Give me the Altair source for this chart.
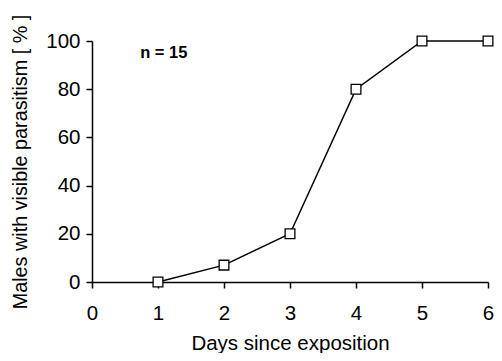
import altair as alt
import pandas as pd

days = [1, 2, 3, 4, 5, 6]
percent = [0, 7, 20, 80, 100, 100]
x_ticks = [0, 1, 2, 3, 4, 5, 6]
y_ticks = [0, 20, 40, 60, 80, 100]
note_text = ["n = 15"]
note_x = [0.73]
note_y = [95]

df = pd.DataFrame({"day": days, "pct": percent})
note = pd.DataFrame({"x": note_x, "y": note_y, "t": note_text})

FONT = "Liberation Sans"
FS = 20.5

x_enc = alt.X("day:Q", scale=alt.Scale(domain=[0, 6], nice=False),
              axis=alt.Axis(values=x_ticks, title="Days since exposition", grid=False,
                            format="d", labelFontSize=FS, titleFontSize=FS,
                            labelFont=FONT, titleFont=FONT, titleFontWeight="normal",
                            labelColor="black", titleColor="black",
                            domainColor="black", tickColor="black", domainWidth=1.5,
                            tickWidth=1.5, tickSize=6, labelPadding=15, titlePadding=10,
                            labelFlush=False))
y_enc = alt.Y("pct:Q", scale=alt.Scale(domain=[0, 100], nice=False),
              axis=alt.Axis(values=y_ticks, title="Males with visible parasitism [ % ]",
                            grid=False, labelFontSize=FS, titleFontSize=19.8,
                            labelFont=FONT, titleFont=FONT, titleFontWeight="normal",
                            labelColor="black", titleColor="black",
                            domainColor="black", tickColor="black", domainWidth=1.5,
                            tickWidth=1.5, tickSize=6, labelPadding=6, titlePadding=15))

line = alt.Chart(df).mark_line(color="black", strokeWidth=1.5).encode(x=x_enc, y=y_enc)
pts = alt.Chart(df).mark_point(shape="square", filled=True, fill="white", stroke="black",
                               strokeWidth=1.3, size=95, opacity=1).encode(x="day:Q", y="pct:Q")
txt = alt.Chart(note).mark_text(align="left", baseline="middle", font=FONT, fontSize=16.5,
                                fontWeight="bold", color="black").encode(
    x="x:Q", y="y:Q", text="t:N")

chart = (line + pts + txt).properties(
    width=396, height=241,
    autosize=alt.AutoSizeParams(type="none"),
    padding={"left": 84, "top": 33, "right": 6, "bottom": 71},
).configure(background="white").configure_view(stroke=None, strokeWidth=0)

chart.save("out.html", embed_options={"renderer": "svg", "actions": False})
